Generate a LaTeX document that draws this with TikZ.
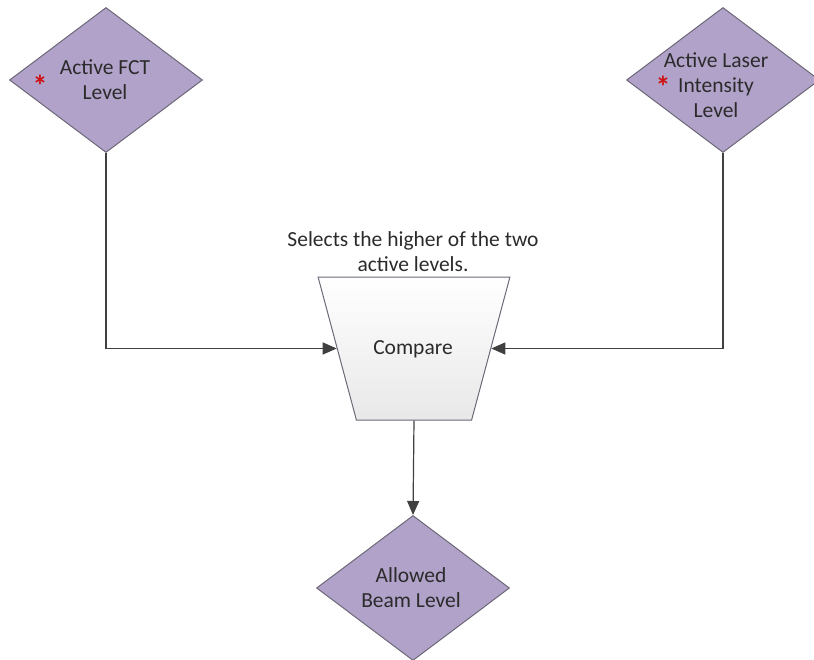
\documentclass[tikz,border=0pt]{standalone}
\usepackage{fontspec}
\setmainfont{Carlito}
\usetikzlibrary{shapes.geometric,arrows.meta}
\definecolor{levelfill}{HTML}{B1A2C9}
\definecolor{levelline}{HTML}{6E6878}
\definecolor{wire}{HTML}{404040}
\definecolor{ink}{HTML}{2B2B2B}
\definecolor{star}{HTML}{D01010}
\tikzset{
  level/.style={diamond, draw=levelline, line width=1pt, fill=levelfill,
    minimum width=193pt, minimum height=145pt, inner sep=0pt},
  lbl/.style={font=\fontsize{21.5}{25}\selectfont, text=ink, align=center, inner sep=0pt},
  mark star/.style={text=star, font=\fontsize{30}{30}\selectfont\bfseries, inner sep=0pt},
  comparebox/.style={trapezium, trapezium stretches=true, shape border rotate=180,
    trapezium left angle=71.6, trapezium right angle=71.6,
    minimum width=192pt, minimum height=143pt, draw=levelline, line width=1pt,
    top color=white, bottom color=black!9},
  wireline/.style={draw=wire, line width=1.2pt,
    -{Triangle[length=14pt,width=12pt]}},
}
\begin{document}
\begin{tikzpicture}[x=1pt,y=-1pt]
\useasboundingbox (0,0) rectangle (814,659);

% input levels
\node[level] (fct) at (106,80) {};
\node[lbl] (fcttxt) at (105,80) {Active FCT\\Level};
\node[mark star] (fctstar) at (40,86) {*};

\node[level] (laser) at (723,80) {};
\node[lbl] (lasertxt) at (716,85) {Active Laser\\Intensity\\Level};
\node[mark star] (laserstar) at (663,87) {*};

% comparison block
\node[comparebox] (cmp) at (414,348.5) {};
\node[lbl] (cmptxt) at (413,349) {Compare};
\node[lbl] (note) at (413,252) {Selects the higher of the two\\active levels.};

% result
\node[level] (beam) at (413,588) {};
\node[lbl] (beamtxt) at (411,588) {Allowed\\Beam Level};

% connectors
\draw[wireline] (fct.south) |- (cmp);
\draw[wireline] (laser.south) |- (cmp);
\draw[wireline] (cmp.south) -- (beam.north);
\end{tikzpicture}
\end{document}
